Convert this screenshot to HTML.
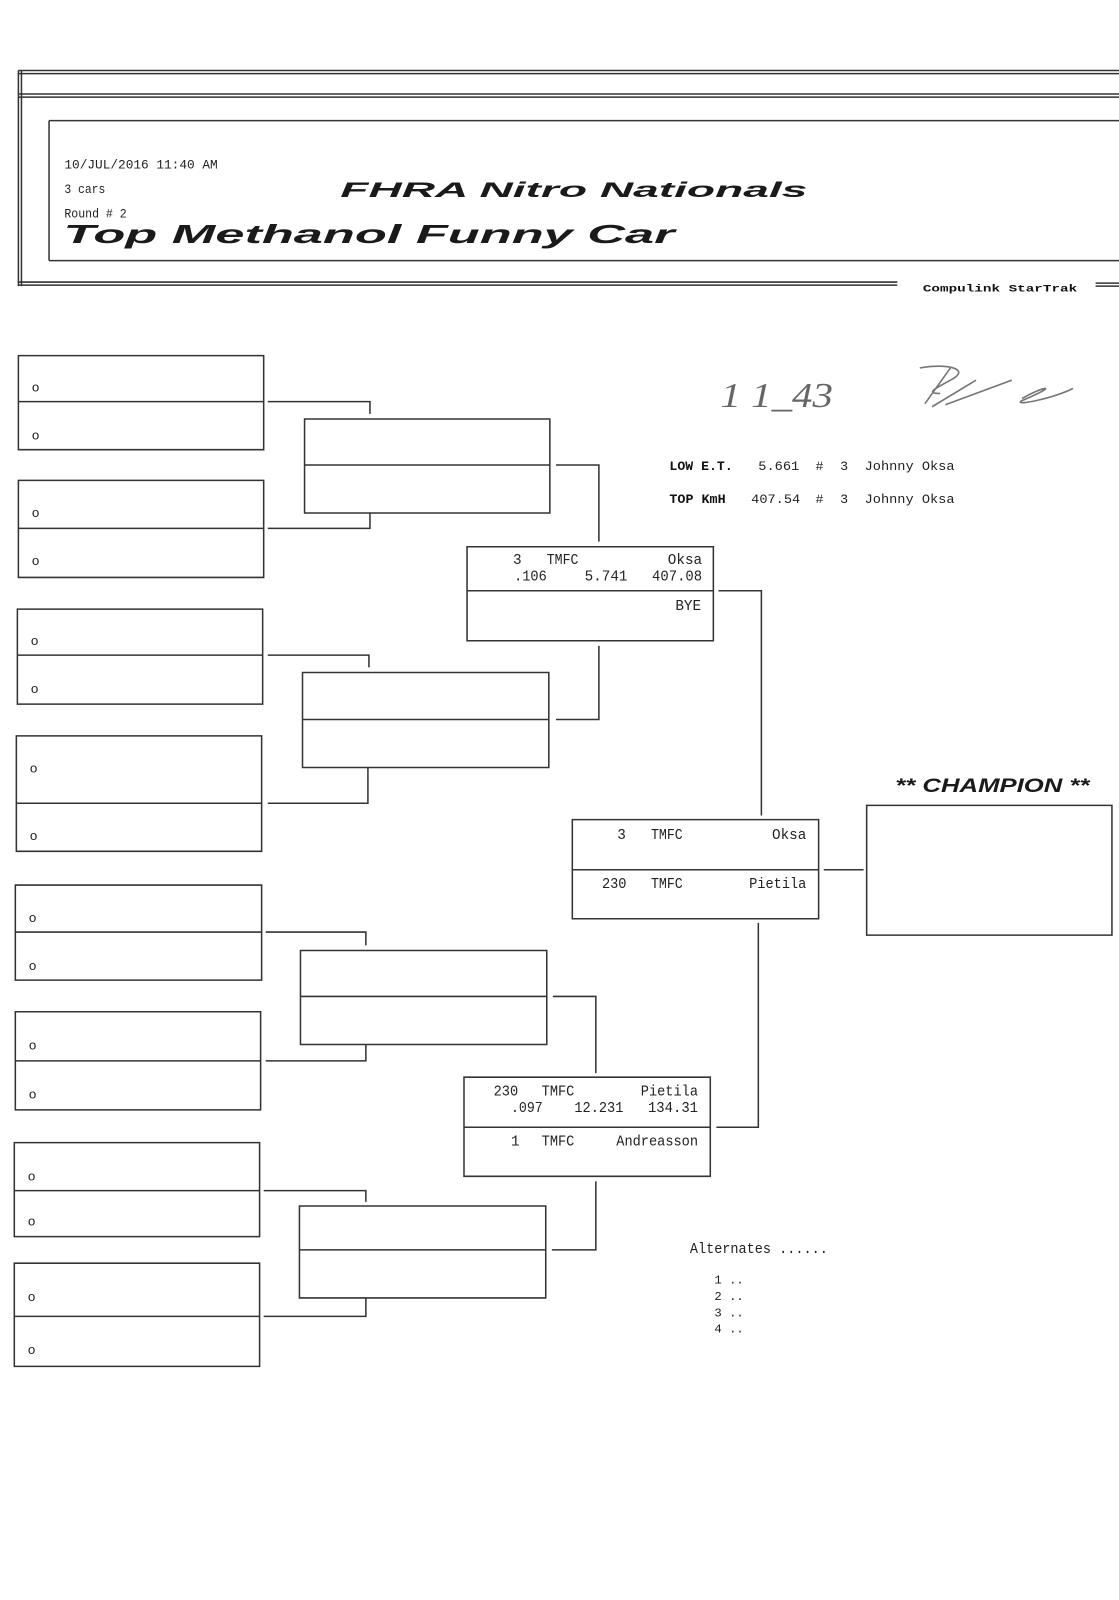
<!DOCTYPE html>
<html><head><meta charset="utf-8"><style>
html,body{margin:0;padding:0;background:#fff;}
svg{display:block;}
.m{font-family:"Liberation Mono",monospace;fill:#222;}
.b{font-family:"Liberation Mono",monospace;fill:#111;font-weight:bold;}
.t{font-family:"Liberation Sans",sans-serif;font-style:italic;fill:#1a1a1a;}
</style></head><body>
<svg width="1119" height="1600" viewBox="0 0 1119 1600" xmlns="http://www.w3.org/2000/svg">
<rect width="1119" height="1600" fill="#fff"/>
<g transform="scale(1.022)">
<g stroke="#333" stroke-width="1.5" fill="none">
<!-- header -->
<path d="M18 69H1100M18 72H1100"/>
<path d="M18 92H1100M18 95H1100"/>
<path d="M18 69V280M21 69V280"/>
<path d="M48 118H1100M48 118V255M48 255H1100"/>
<path d="M18 276H878M18 279H878M1072 277H1100M1072 280H1100"/>
<!-- round 1 -->
<path d="M18 348H258V440H18ZM18 393H258"/>
<path d="M18 470H258V565H18ZM18 517H258"/>
<path d="M17 596H257V689H17ZM17 641H257"/>
<path d="M16 720H256V833H16ZM16 786H256"/>
<path d="M15 866H256V959H15ZM15 912H256"/>
<path d="M15 990H255V1086H15ZM15 1038H255"/>
<path d="M14 1118H254V1210H14ZM14 1165H254"/>
<path d="M14 1236H254V1337H14ZM14 1288H254"/>
<!-- connectors r1->r2 -->
<path d="M262 393H362V405M262 517H362V502M262 641H361V653M262 786H360V751M260 912H358V925M260 1038H358V1022M258 1165H358V1176M258 1288H358V1270"/>
<!-- round 2 -->
<path d="M298 410H538V502H298ZM298 455H538"/>
<path d="M296 658H537V751H296ZM296 704H537"/>
<path d="M294 930H535V1022H294ZM294 975H535"/>
<path d="M293 1180H534V1270H293ZM293 1223H534"/>
<!-- r2->r3 -->
<path d="M544 455H586V530M544 704H586V632M541 975H583V1050M540 1223H583V1156"/>
<!-- round 3 -->
<path d="M457 535H698V627H457ZM457 578H698"/>
<path d="M454 1054H695V1151H454ZM454 1103H695"/>
<!-- r3->r4 -->
<path d="M703 578H745V798M701 1103H742V903"/>
<!-- round 4 -->
<path d="M560 802H801V899H560ZM560 851H801"/>
<path d="M806 851H845"/>
<!-- champion -->
<path d="M848 788H1088V915H848Z"/>
</g>
<!-- header text -->
<text class="m" x="63" y="165" font-size="13" textLength="150" lengthAdjust="spacingAndGlyphs">10/JUL/2016  11:40 AM</text>
<text class="m" x="63" y="189" font-size="13" textLength="40" lengthAdjust="spacingAndGlyphs">3 cars</text>
<text class="m" x="63" y="213" font-size="13" textLength="61" lengthAdjust="spacingAndGlyphs">Round # 2</text>
<text class="t" x="333" y="193" font-size="21" font-weight="bold" textLength="457" lengthAdjust="spacingAndGlyphs">FHRA Nitro Nationals</text>
<text class="t" x="62" y="238" font-size="25" font-weight="bold" textLength="598" lengthAdjust="spacingAndGlyphs">Top Methanol Funny Car</text>
<text class="b" x="903" y="285" font-size="10" textLength="151" lengthAdjust="spacingAndGlyphs">Compulink  StarTrak</text>
<!-- o markers -->
<g class="m" font-size="13">
<text x="31" y="383">o</text><text x="31" y="430">o</text>
<text x="31" y="506">o</text><text x="31" y="553">o</text>
<text x="30" y="631">o</text><text x="30" y="678">o</text>
<text x="29" y="756">o</text><text x="29" y="822">o</text>
<text x="28" y="902">o</text><text x="28" y="949">o</text>
<text x="28" y="1027">o</text><text x="28" y="1075">o</text>
<text x="27" y="1155">o</text><text x="27" y="1199">o</text>
<text x="27" y="1273">o</text><text x="27" y="1325">o</text>
</g>
<!-- handwriting -->
<text x="705" y="398" font-family="Liberation Serif,serif" font-style="italic" font-size="34" fill="#666" textLength="110" lengthAdjust="spacingAndGlyphs">1 1_43</text>
<path d="M900 360 C930 355 950 362 930 372 C915 380 905 385 920 385 M905 395 L930 360 M912 398 L955 372 M925 396 L990 372 M1000 390 C1020 378 1040 375 1000 392 C990 398 1030 390 1050 380" stroke="#777" stroke-width="1.6" fill="none"/>
<!-- stats -->
<g font-size="13" class="m">
<text x="655" y="460" class="b" textLength="62" lengthAdjust="spacingAndGlyphs">LOW E.T.</text>
<text x="742" y="460" textLength="40" lengthAdjust="spacingAndGlyphs">5.661</text>
<text x="798" y="460">#</text><text x="822" y="460">3</text>
<text x="846" y="460" textLength="88" lengthAdjust="spacingAndGlyphs">Johnny Oksa</text>
<text x="655" y="492" class="b" textLength="55" lengthAdjust="spacingAndGlyphs">TOP KmH</text>
<text x="735" y="492" textLength="48" lengthAdjust="spacingAndGlyphs">407.54</text>
<text x="798" y="492">#</text><text x="822" y="492">3</text>
<text x="846" y="492" textLength="88" lengthAdjust="spacingAndGlyphs">Johnny Oksa</text>
</g>
<!-- r3 box1 -->
<g class="m" font-size="14">
<text x="502" y="552">3</text>
<text x="535" y="552" textLength="31" lengthAdjust="spacingAndGlyphs">TMFC</text>
<text x="687" y="552" text-anchor="end">Oksa</text>
<text x="503" y="568" textLength="32" lengthAdjust="spacingAndGlyphs">.106</text>
<text x="572" y="568" textLength="42" lengthAdjust="spacingAndGlyphs">5.741</text>
<text x="638" y="568" textLength="49" lengthAdjust="spacingAndGlyphs">407.08</text>
<text x="686" y="597" text-anchor="end">BYE</text>
<!-- r4 -->
<text x="604" y="821">3</text>
<text x="637" y="821" textLength="31" lengthAdjust="spacingAndGlyphs">TMFC</text>
<text x="789" y="821" text-anchor="end">Oksa</text>
<text x="589" y="869" textLength="24" lengthAdjust="spacingAndGlyphs">230</text>
<text x="637" y="869" textLength="31" lengthAdjust="spacingAndGlyphs">TMFC</text>
<text x="789" y="869" text-anchor="end" textLength="56" lengthAdjust="spacingAndGlyphs">Pietila</text>
<!-- r3 box2 -->
<text x="483" y="1072" textLength="24" lengthAdjust="spacingAndGlyphs">230</text>
<text x="530" y="1072" textLength="32" lengthAdjust="spacingAndGlyphs">TMFC</text>
<text x="627" y="1072" textLength="56" lengthAdjust="spacingAndGlyphs">Pietila</text>
<text x="500" y="1088" textLength="31" lengthAdjust="spacingAndGlyphs">.097</text>
<text x="562" y="1088" textLength="48" lengthAdjust="spacingAndGlyphs">12.231</text>
<text x="634" y="1088" textLength="49" lengthAdjust="spacingAndGlyphs">134.31</text>
<text x="500" y="1121">1</text>
<text x="530" y="1121" textLength="32" lengthAdjust="spacingAndGlyphs">TMFC</text>
<text x="603" y="1121" textLength="80" lengthAdjust="spacingAndGlyphs">Andreasson</text>
</g>
<text class="t" x="876" y="775" font-size="19" font-weight="bold" textLength="190" lengthAdjust="spacingAndGlyphs">** CHAMPION **</text>
<!-- alternates -->
<text class="m" x="675" y="1226" font-size="14" textLength="135" lengthAdjust="spacingAndGlyphs">Alternates ......</text>
<g class="m" font-size="12">
<text x="699" y="1256">1 ..</text><text x="699" y="1272">2 ..</text>
<text x="699" y="1288">3 ..</text><text x="699" y="1304">4 ..</text>
</g>
</g>
</svg>
</body></html>
